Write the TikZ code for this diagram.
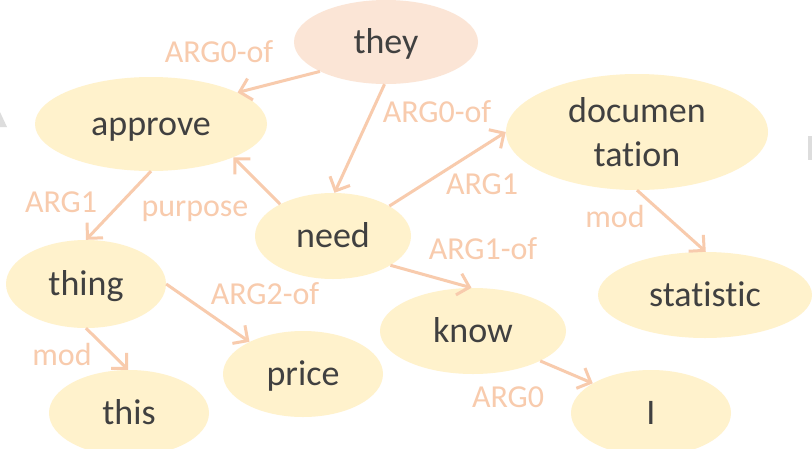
\documentclass[tikz,border=0pt]{standalone}
\usepackage{fontspec}
\setmainfont{Carlito}[Ligatures=NoCommon]
\usetikzlibrary{arrows.meta,shapes.geometric}
\definecolor{nodeyellow}{HTML}{FFF2CC}
\definecolor{nodepeach}{HTML}{FBE5D6}
\definecolor{edgecol}{HTML}{F8CBAD}
\definecolor{labelcol}{HTML}{F8CBAD}
\definecolor{textcol}{HTML}{404040}
\definecolor{edgegray}{HTML}{DDDDDD}

\begin{document}
\begin{tikzpicture}[x=1pt,y=-1pt,
  concept/.style args={#1/#2}{ellipse, fill=nodeyellow, draw=none, inner sep=0pt,
    minimum width=#1, minimum height=#2, text=textcol,
    font=\fontsize{36}{44}\selectfont, align=center},
  oneline/.style={text height=32pt, text depth=9pt},
  rel/.style={draw=edgecol, line width=3pt,
    -{Straight Barb[length=11pt,width=22pt,line width=3pt]}},
  lbl/.style={text=labelcol, inner sep=0pt, anchor=base,
    font=\fontsize{32}{36}\selectfont}]

\fill[white] (0,0) rectangle (812,448);
\clip (0,0) rectangle (812,448);

% small grey fragments at the page edges
\fill[edgegray] (0,112) -- (7,127) -- (0,127) -- cycle;
\fill[edgegray] (808,136) rectangle (812,160);

% concepts
\node[concept=184pt/84pt, oneline, fill=nodepeach] (they) at (386,42) {they};
\node[concept=232pt/94pt, oneline] (approve) at (151,124) {approve};
\node[concept=262pt/116pt] (doc) at (637,132) {documen\\tation};
\node[concept=156pt/86pt, oneline] (need) at (333,236) {need};
\node[concept=160pt/88pt, oneline] (thing) at (86,284) {thing};
\node[concept=214pt/86pt, oneline] (statistic) at (705,295) {statistic};
\node[concept=186pt/86pt, oneline] (know) at (473,331) {know};
\node[concept=160pt/86pt, oneline] (price) at (303,374) {price};
\node[concept=160pt/86pt, oneline] (this) at (129,413) {this};
\node[concept=160pt/86pt, oneline] (I) at (651,413) {I};

% relations
\draw[rel] (they.204) -- (approve.20);
\draw[rel] (they.268) -- (need.88);
\draw[rel] (need.149) -- (approve.-22);
\draw[rel] (approve.270) -- (thing.90);
\draw[rel] (need.28) -- (doc.180);
\draw[rel] (doc.270) -- (statistic.89);
\draw[rel] (need.333) -- (know.92);
\draw[rel] (thing.0) -- (price.149);
\draw[rel] (thing.270) -- (this.91);
\draw[rel] (know.336) -- (I.153);

% relation labels
\node[lbl] (l-they-approve) at (219,62) {ARG0-of};
\node[lbl] (l-they-need) at (437,122) {ARG0-of};
\node[lbl] (l-purpose) at (195,216) {purpose};
\node[lbl] (l-approve-thing) at (61,212) {ARG1};
\node[lbl] (l-need-doc) at (482,194) {ARG1};
\node[lbl] (l-doc-stat) at (615,227) {mod};
\node[lbl] (l-need-know) at (483,259) {ARG1-of};
\node[lbl] (l-thing-price) at (265,304) {ARG2-of};
\node[lbl] (l-thing-this) at (62,365) {mod};
\node[lbl] (l-know-I) at (508,407) {ARG0};
\end{tikzpicture}
\end{document}
